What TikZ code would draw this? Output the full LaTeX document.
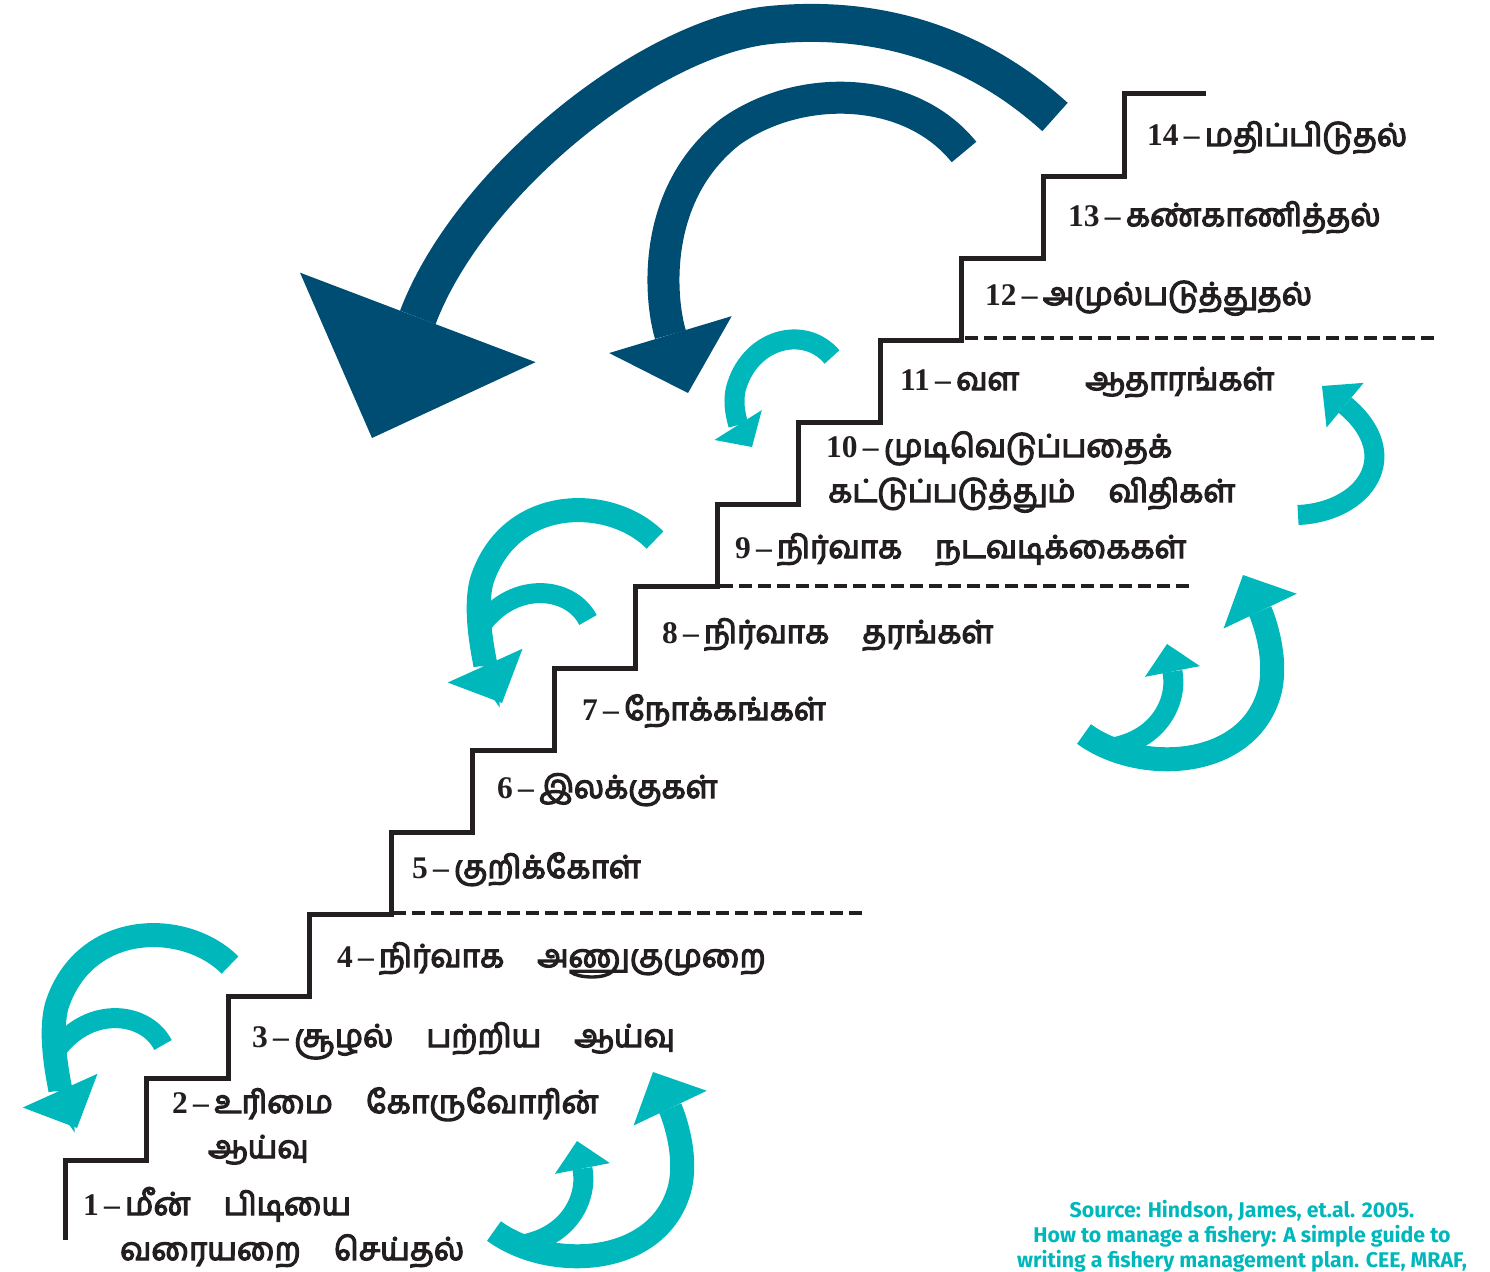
\documentclass[tikz,border=0pt]{standalone}
\usepackage{fontspec}
\setmainfont{Liberation Serif}
\newfontfamily\tamilfont[Script=Tamil, FakeBold=4]{Hind Madurai}
\newfontfamily\notefont{Fira Sans}
\usetikzlibrary{arrows.meta}
\definecolor{stairblack}{RGB}{35,31,32}
\definecolor{deepblue}{RGB}{0,77,115}
\definecolor{tealcyan}{RGB}{0,184,188}

\newcommand{\tamtext}[1]{{\tamilfont #1}}
\newcommand{\steplabel}[2]{\textbf{#1\,--\,}\tamtext{#2}}
\newcommand{\gap}{\hspace{1.05em}}

\begin{document}
\begin{tikzpicture}[x=1pt, y=-1pt,
    stair/.style={draw=stairblack, line width=5pt, line join=miter},
    divider/.style={draw=stairblack, line width=4.5pt, dash pattern=on 13pt off 6pt},
    stepname/.style={anchor=base west, inner sep=0pt, text=stairblack, font=\fontsize{31.5}{36}\selectfont},
    bluearrow/.style={draw=deepblue, line width=#1},
    tealarrow/.style={draw=tealcyan, line width=#1},
    note/.style={align=center, text=tealcyan, font=\notefont\bfseries\fontsize{21.3}{25}\selectfont}
]
\useasboundingbox (0,0) rectangle (1490,1271);

% Staircase
\draw[stair] (65,1240) -- (65,1160)
    \foreach \k in {1,...,13} { -- ({65+81.5*\k},{1160-82*(\k-1)}) -- ({65+81.5*\k},{1160-82*\k}) }
    -- (1206,94);

% Phase dividers
\draw[divider] (393,913) -- (862,913);
\draw[divider] (720,586) -- (1190,586);
\draw[divider] (965,338) -- (1440,338);

% Steps
\node[stepname] (s1) at (83,1215) {\steplabel{1}{மீன்\gap பிடியை}};
\node[stepname] (s1b) at (120,1260) {\tamtext{வரையறை\gap செய்தல்}};
\node[stepname] (s2) at (172,1113) {\steplabel{2}{உரிமை\gap கோருவோரின்}};
\node[stepname] (s2b) at (208,1158) {\tamtext{ஆய்வு}};
\node[stepname] (s3) at (252,1047) {\steplabel{3}{சூழல்\gap பற்றிய\gap ஆய்வு}};
\node[stepname] (s4) at (337,967) {\steplabel{4}{நிர்வாக\gap அணுகுமுறை}};
\node[stepname] (s5) at (412,878) {\steplabel{5}{குறிக்கோள்}};
\node[stepname] (s6) at (497,798) {\steplabel{6}{இலக்குகள்}};
\node[stepname] (s7) at (582,720) {\steplabel{7}{நோக்கங்கள்}};
\node[stepname] (s8) at (662,643) {\steplabel{8}{நிர்வாக\gap தரங்கள்}};
\node[stepname] (s9) at (735,558) {\steplabel{9}{நிர்வாக\gap நடவடிக்கைகள்}};
\node[stepname] (s10) at (826,457) {\steplabel{10}{முடிவெடுப்பதைக்}};
\node[stepname] (s10b) at (828,502) {\tamtext{கட்டுப்படுத்தும்\gap விதிகள்}};
\node[stepname] (s11) at (900,390) {\steplabel{11}{வள\gap\gap ஆதாரங்கள்}};
\node[stepname] (s12) at (985,305) {\steplabel{12}{அமுல்படுத்துதல்}};
\node[stepname] (s13) at (1068,226) {\steplabel{13}{கண்காணித்தல்}};
\node[stepname] (s14) at (1147,146) {\steplabel{14}{மதிப்பிடுதல்}};

% Big feedback arrows
\draw[bluearrow=38pt, -{Triangle[length=129pt, width=252pt, line width=0pt]}]
    (1055,117) .. controls (970,40) and (870,15) .. (770,25)
    .. controls (650,37) and (470,180) .. (372,438);
\draw[bluearrow=32pt, -{Triangle[length=61pt, width=128pt, line width=0pt]}]
    (964,152) .. controls (910,85) and (800,82) .. (730,132)
    .. controls (650,195) and (660,300) .. (688,393);

% Small loops
\draw[tealarrow=20pt, -{Triangle[length=26pt, width=56pt, line width=0pt]}]
    (832,357) .. controls (805,325) and (752,338) .. (737,385)
    .. controls (730,405) and (740,428) .. (752,447);
\draw[tealarrow=20pt, -{Triangle[length=30pt, width=58pt, line width=0pt]}]
    (1298,515) .. controls (1365,512) and (1405,455) .. (1322,386);

\foreach \dx/\dy in {0/0,-425/425} {
  \begin{scope}[shift={(\dx,\dy)}]
    \draw[tealarrow=20pt] (588,620) .. controls (570,585) and (510,580) .. (478,630);
    \draw[tealarrow=24pt, -{Triangle[length=41pt, width=82pt, line width=0pt]}]
        (655,540) .. controls (610,495) and (510,495) .. (482,580)
        .. controls (472,615) and (488,672) .. (502,703);
  \end{scope}
}
\foreach \dx/\dy in {0/0,-590/497} {
  \begin{scope}[shift={(\dx,\dy)}]
    \draw[tealarrow=24pt, -{Triangle[length=40pt, width=81pt, line width=0pt]}]
        (1084,734) .. controls (1140,775) and (1250,770) .. (1270,690)
        .. controls (1278,655) and (1262,615) .. (1243,575);
    \draw[tealarrow=20pt, -{Triangle[length=28pt, width=56pt, line width=0pt]}]
        (1110,748) .. controls (1160,740) and (1178,700) .. (1167,644);
  \end{scope}
}

% Source
\node[note] (source) at (1242,1236) {Source: Hindson, James, et.al. 2005.\\How to manage a fishery: A simple guide to\\writing a fishery management plan. CEE, MRAF,};
\end{tikzpicture}
\end{document}
